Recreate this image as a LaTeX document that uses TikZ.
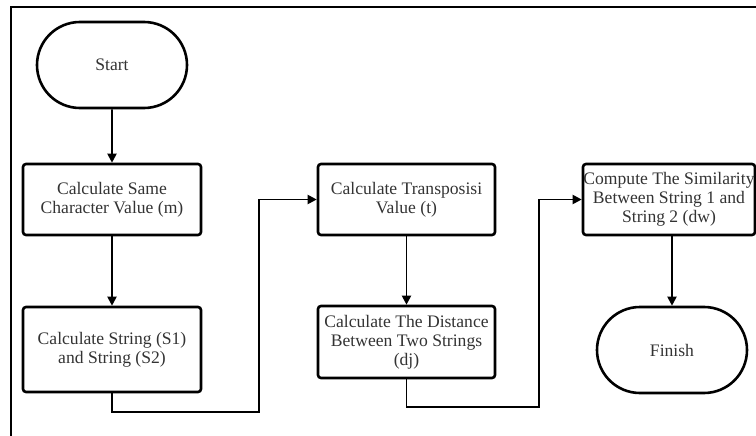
\documentclass[tikz,border=0pt]{standalone}
\usepackage{fontspec}
\setmainfont{Liberation Serif}
\usetikzlibrary{arrows.meta,shapes.misc}
\begin{document}
\begin{tikzpicture}[x=1pt,y=-1pt,
  every node/.style={font=\fontsize{17.6}{19}\selectfont, text=black!80},
  procbox/.style={draw=black, line width=2.6pt, rounded corners=3pt, align=center, inner sep=0pt},
  term/.style={draw=black, line width=2.6pt, rounded rectangle, align=center, inner sep=0pt},
  conn/.style={line width=1.9pt, -{Triangle[length=9pt,width=9pt]}}]
\useasboundingbox (0,0) rectangle (756,436);
\draw[line width=2.6pt] (11,436) -- (11,7) -- (756,7);
\node[term, minimum width=150pt, minimum height=86pt] (start) at (112,65) {Start};
\node[procbox, minimum width=178pt, minimum height=71pt] (b1) at (112,199.5) {Calculate Same\\Character Value (m)};
\node[procbox, minimum width=178pt, minimum height=85pt] (b2) at (112,349.5) {Calculate String (S1)\\and String (S2)};
\node[procbox, minimum width=177pt, minimum height=71pt] (b3) at (406.5,199.5) {Calculate Transposisi\\Value (t)};
\node[procbox, minimum width=177pt, minimum height=72pt] (b4) at (406.5,342) {Calculate The Distance\\Between Two Strings\\(dj)};
\node[procbox, minimum width=172pt, minimum height=71pt] (b5) at (669,199.5) {Compute The Similarity\\Between String 1 and\\String 2 (dw)};
\node[term, minimum width=150pt, minimum height=86pt] (fin) at (672,350) {Finish};
\coordinate (c1) at (112,412);
\coordinate (c2) at (259,412);
\coordinate (c3) at (406.5,407);
\coordinate (c4) at (539,407);
\draw[conn] (start) -- (b1);
\draw[conn] (b1) -- (b2);
\draw[conn] (b2.south) -- (c1) -- (c2) |- (b3.west);
\draw[conn] (b3) -- (b4);
\draw[conn] (b4.south) -- (c3) -- (c4) |- (b5.west);
\draw[conn] (b5.south -| fin.north) -- (fin.north);
\end{tikzpicture}
\end{document}
